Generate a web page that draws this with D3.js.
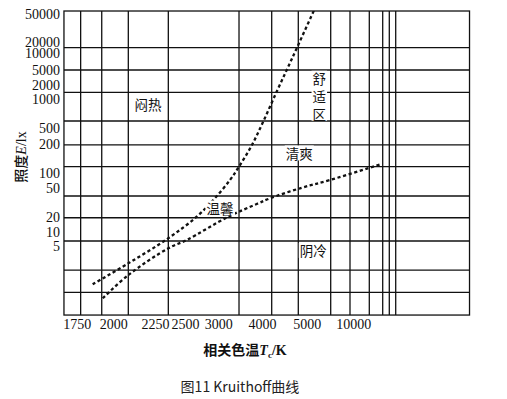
<!DOCTYPE html>
<html>
<head>
<meta charset="utf-8">
<script src="https://cdn.jsdelivr.net/npm/d3@7"></script>
<style>
  html, body { margin: 0; padding: 0; background: #fff; }
  svg { display: block; }
  .tick text { font-family: "Liberation Serif", serif; font-size: 14px; fill: #111; }
  .zone { font-family: "Noto Sans CJK SC", sans-serif; font-size: 13.5px; fill: #111; }
</style>
</head>
<body>
<svg id="chart" width="507" height="399"></svg>
<script>
// ── Data ──────────────────────────────────────────────────
// colour temperature ticks (K) and illuminance ticks (lx), as printed
const xTicks = [1750, 2000, 2250, 2500, 3000, 4000, 5000, 10000];
const yTicks = [50000, 20000, 10000, 5000, 2000, 1000, 500, 200, 100, 50, 20, 10, 5];

// grid lines, in data units (the printed grid is irregular)
const xGrid = [1777, 1921, 2090, 2361, 3474, 4217, 4812, 7575, 9646, 11717, 13155, 13863, 14550];
const yGrid = [13980, 5000, 1404, 589, 197, 116, 39, 19.1, 6.44, 1.48, 0.48];

// frame extent, data units
const xExtent = [1663, 22470];
const yExtent = [0.152, 55200];

// upper boundary (闷热 / 舒适区) : [T, E]
const upperCurve = [
  [1859, 0.72], [2090, 2.08], [2361, 7.4], [2676, 20], [2925, 34.3],
  [3268, 72.3], [3474, 116], [3771, 197], [4034, 589], [4322, 1404],
  [4553, 5000], [4783, 13980], [5944, 63000]
];

// lower boundary (舒适区 / 阴冷) : [T, E]
const lowerCurve = [
  [1928, 0.355], [2090, 1.15], [2361, 4.46], [2526, 6.78], [3229, 20],
  [3879, 30.1], [4179, 36.2], [4850, 50], [7500, 72.3], [13050, 124]
];

// zone labels : [text, T, E]
const zones = [
  ['闷热', 2208, 870],
  ['清爽', 4834, 157],
  ['温馨', 3039, 25.4],
  ['阴冷', 5708, 3.75]
];
// vertical label 舒适区 : one char per illuminance level
const comfortChars = ['舒', '适', '区'];
const comfortT = 6352;
const comfortE = [2885, 1081, 682];

// ── Scales (the printed axes are not uniform, so polylinear) ──
const X_STOPS = [76.7, 113.3, 155, 185, 218.3, 262, 306.7, 353.3];
const Y_STOPS = [14, 41.7, 53.3, 70, 85, 99.3, 127.7, 144.3, 172.7, 188.3, 216.7, 232.3, 246];

const x = d3.scaleLinear().domain(xTicks).range(X_STOPS);
const y = d3.scaleLog().domain(yTicks).range(Y_STOPS);

const svg = d3.select('#chart');
const x0 = x(xExtent[0]), x1 = x(xExtent[1]);
const y0 = y(yExtent[0]), y1 = y(yExtent[1]);

svg.append('defs').append('clipPath').attr('id', 'plot-clip')
  .append('rect')
  .attr('x', x0).attr('y', y1)
  .attr('width', x1 - x0).attr('height', y0 - y1);

// ── Grid ──────────────────────────────────────────────────
const grid = svg.append('g').attr('stroke', '#111').attr('stroke-width', 1.3);

grid.selectAll('.vg').data(xGrid).enter().append('line')
  .attr('x1', d => x(d)).attr('x2', d => x(d))
  .attr('y1', y1).attr('y2', y0);

grid.selectAll('.hg').data(yGrid).enter().append('line')
  .attr('x1', x0).attr('x2', x1)
  .attr('y1', d => y(d)).attr('y2', d => y(d));

grid.append('rect')
  .attr('x', x0).attr('y', y1)
  .attr('width', x1 - x0).attr('height', y0 - y1)
  .attr('fill', 'none');

// ── Curves ────────────────────────────────────────────────
const line = d3.line()
  .x(d => x(d[0]))
  .y(d => y(d[1]))
  .curve(d3.curveCatmullRom.alpha(0.5));

svg.append('g').attr('clip-path', 'url(#plot-clip)')
  .selectAll('path')
  .data([upperCurve, lowerCurve])
  .enter().append('path')
  .attr('d', line)
  .attr('fill', 'none')
  .attr('stroke', '#111')
  .attr('stroke-width', 2.3)
  .attr('stroke-dasharray', '3.2,2.6');

// ── Zone labels (white box hides the lines under them) ────
function whiteBox(g, t, padY) {
  const b = t.node().getBBox();
  g.insert('rect', 'text')
    .attr('x', b.x - 1).attr('y', b.y + padY)
    .attr('width', b.width + 2).attr('height', b.height - 2 * padY)
    .attr('fill', '#fff');
}

const labels = svg.append('g');
zones.forEach(([txt, t, e]) => {
  const g = labels.append('g');
  const el = g.append('text')
    .attr('class', 'zone')
    .attr('x', x(t)).attr('y', y(e))
    .attr('text-anchor', 'middle')
    .attr('dy', '0.35em')
    .text(txt);
  whiteBox(g, el, 2.5);
});

// 舒适区 as a single text, one tspan per character
const cg = labels.append('g');
const comfort = cg.append('text')
  .attr('class', 'zone')
  .attr('text-anchor', 'middle');
comfort.selectAll('tspan')
  .data(comfortChars)
  .enter().append('tspan')
  .attr('x', x(comfortT))
  .attr('y', (d, i) => y(comfortE[i]))
  .attr('dy', '0.35em')
  .text(d => d);
whiteBox(cg, comfort, 3);

// ── Axes ──────────────────────────────────────────────────
const yAxis = svg.append('g')
  .attr('transform', `translate(${x0},0)`)
  .call(d3.axisLeft(y).tickValues(yTicks).tickFormat(d3.format('d')).tickSize(0).tickPadding(4));
yAxis.select('.domain').remove();

const xAxis = svg.append('g')
  .attr('transform', `translate(0,${y0})`)
  .call(d3.axisBottom(x).tickValues(xTicks).tickFormat(d3.format('d')).tickSize(0).tickPadding(4));
xAxis.select('.domain').remove();

// y title: 照度E/lx
const yTitle = svg.append('text')
  .attr('transform', 'translate(26,157) rotate(-90)')
  .attr('text-anchor', 'middle')
  .attr('fill', '#111')
  .attr('font-size', 14);
yTitle.append('tspan').attr('font-family', '"Noto Sans CJK SC", sans-serif').attr('font-weight', 500).text('照度');
yTitle.append('tspan').attr('font-family', '"Liberation Serif", serif').attr('font-style', 'italic').text('E');
yTitle.append('tspan').attr('font-family', '"Liberation Serif", serif').text('/lx');

// x title: 相关色温Tc/K
const xTitle = svg.append('text')
  .attr('x', 245).attr('y', 355)
  .attr('text-anchor', 'middle')
  .attr('fill', '#111')
  .attr('font-size', 14)
  .attr('font-weight', 'bold');
xTitle.append('tspan').attr('font-family', '"Noto Sans CJK SC", sans-serif').text('相关色温');
xTitle.append('tspan').attr('font-family', '"Liberation Serif", serif').attr('font-style', 'italic').text('T');
xTitle.append('tspan').attr('font-family', '"Liberation Serif", serif').attr('font-size', 9).attr('dy', 3).text('c');
xTitle.append('tspan').attr('font-family', '"Liberation Serif", serif').attr('dy', -3).text('/K');

// caption
svg.append('text')
  .attr('x', 240).attr('y', 392)
  .attr('text-anchor', 'middle')
  .attr('font-family', '"Noto Sans CJK SC", sans-serif')
  .attr('font-size', 14)
  .attr('fill', '#222')
  .text('图11 Kruithoff曲线');
</script>
</body>
</html>
